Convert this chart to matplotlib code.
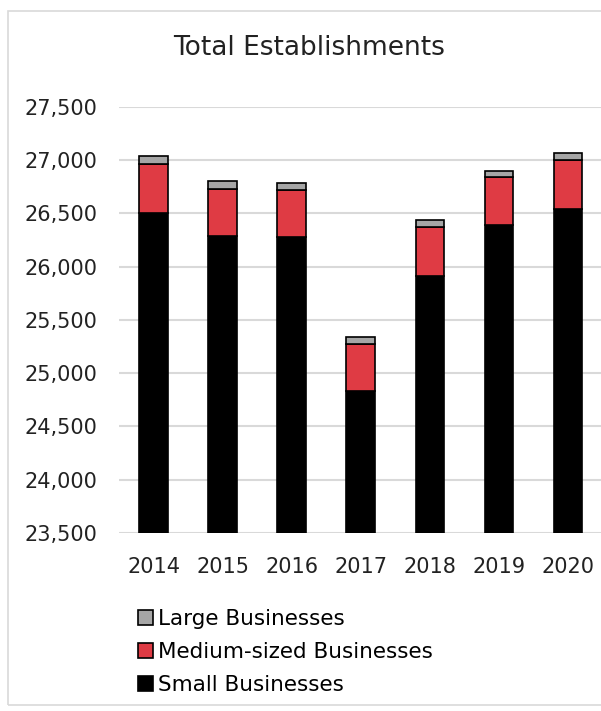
import matplotlib.pyplot as plt
from matplotlib.patches import Rectangle

years = ['2014', '2015', '2016', '2017', '2018', '2019', '2020']
small = [26500, 26290, 26275, 24835, 25915, 26392, 26542]
medium = [465, 440, 446, 437, 456, 448, 460]
large = [75, 72, 69, 71, 68, 62, 63]

plt.rcParams['font.family'] = ['DejaVu Sans']

fig = plt.figure(figsize=(6.01, 7.11), dpi=100)
fig.patches.append(Rectangle((8 / 601, 0.008), 1.2, (711 - 17) / 711, transform=fig.transFigure,
                             fill=False, edgecolor='#d9d9d9', linewidth=1.2))
ax = fig.add_axes([0.1988, 0.2504, 0.8037, 0.5991])

x = range(len(years))
w = 0.42
ax.bar(x, small, w, color='black', edgecolor='black', linewidth=1.2, label='Small Businesses', zorder=3)
mid_base = small
ax.bar(x, medium, w, bottom=mid_base, color='#df3b44', edgecolor='black', linewidth=1.2,
       label='Medium-sized Businesses', zorder=3)
top_base = [s + m for s, m in zip(small, medium)]
ax.bar(x, large, w, bottom=top_base, color='#a6a6a6', edgecolor='black', linewidth=1.2,
       label='Large Businesses', zorder=3)

ax.set_ylim(23500, 27500)
ax.set_xlim(-0.5, 6.5)
ax.set_yticks(range(23500, 27501, 500))
ax.set_yticklabels([f'{v:,}' for v in range(23500, 27501, 500)])
ax.set_xticks(list(x))
ax.set_xticklabels(years)
ax.tick_params(axis='both', length=0, labelsize=15, colors='#222222')
ax.tick_params(axis='y', pad=16)
ax.tick_params(axis='x', pad=17)
ax.grid(axis='y', color='#d9d9d9', linewidth=1.5, zorder=0)
for s in ax.spines.values():
    s.set_visible(False)

fig.text(0.515, 0.9325, 'Total Establishments', ha='center', va='center', fontsize=19, color='#222222')

h, l = ax.get_legend_handles_labels()
leg = fig.legend(h[::-1], l[::-1], loc='upper left', bbox_to_anchor=(0.215, 0.155), frameon=False,
                 fontsize=15.5, handlelength=0.7, handleheight=0.7, handletextpad=0.25,
                 labelspacing=0.6, borderaxespad=0)

fig.savefig('out.png', dpi=100)
